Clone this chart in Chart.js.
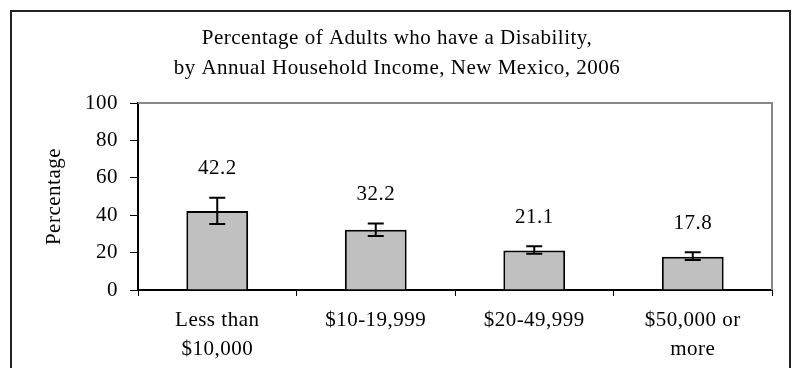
<!DOCTYPE html>
<html>
<head>
<meta charset="utf-8">
<script src="https://cdn.jsdelivr.net/npm/chart.js@4"></script>
<style>
  html, body { margin: 0; padding: 0; background: #fff; }
  #wrap { width: 796px; height: 368px; }
</style>
</head>
<body>
<div id="wrap"><canvas id="myChart" width="796" height="368"></canvas></div>
<script>
// data
const categories = [['Less than', '$10,000'], '$10-19,999', '$20-49,999', ['$50,000 or', 'more']];
const percentages = [42.2, 32.2, 21.1, 17.8];
const ciLow = [35.3, 28.9, 19.4, 16.0];
const ciHigh = [49.3, 35.5, 23.4, 20.2];
const yTicks = [0, 20, 40, 60, 80, 100];
const titleLines = ['Percentage of Adults who have a Disability,', 'by Annual Household Income, New Mexico, 2006'];

const serif = "'Liberation Serif', 'Times New Roman', serif";

// letter spacing like the original export, outer frame and plot border
const framePlugin = {
  id: 'frame',
  beforeDraw(chart) {
    const ctx = chart.ctx;
    ctx.letterSpacing = '0.5px';
    ctx.save();
    ctx.strokeStyle = '#222';
    ctx.lineWidth = 2;
    ctx.strokeRect(11, 11, 779, 370);
    // title
    ctx.fillStyle = '#000';
    ctx.font = '21px ' + serif;
    ctx.textAlign = 'center';
    ctx.textBaseline = 'middle';
    ctx.fillText(titleLines[0], 397, 38);
    ctx.fillText(titleLines[1], 397, 68);
    ctx.restore();
  },
  afterDatasetsDraw(chart) {
    const { ctx, chartArea } = chart;
    ctx.save();
    ctx.strokeStyle = '#888';
    ctx.lineWidth = 2;
    ctx.beginPath();
    ctx.moveTo(chartArea.left, chartArea.top);
    ctx.lineTo(chartArea.right, chartArea.top);
    ctx.lineTo(chartArea.right, chartArea.bottom);
    ctx.stroke();
    ctx.restore();
  }
};

// error bars and value labels
const errorBarPlugin = {
  id: 'errorBars',
  afterDatasetsDraw(chart) {
    const ctx = chart.ctx;
    const y = chart.scales.y;
    const meta = chart.getDatasetMeta(0);
    ctx.save();
    ctx.strokeStyle = '#000';
    ctx.lineWidth = 2;
    ctx.fillStyle = '#000';
    ctx.font = '21px ' + serif;
    ctx.textAlign = 'center';
    ctx.textBaseline = 'middle';
    meta.data.forEach((bar, i) => {
      const x = bar.x;
      const yHi = y.getPixelForValue(ciHigh[i]);
      const yLo = y.getPixelForValue(ciLow[i]);
      ctx.beginPath();
      ctx.moveTo(x, yHi); ctx.lineTo(x, yLo);
      ctx.moveTo(x - 8, yHi); ctx.lineTo(x + 8, yHi);
      ctx.moveTo(x - 8, yLo); ctx.lineTo(x + 8, yLo);
      ctx.stroke();
      ctx.fillText(percentages[i].toFixed(1), x, yHi - 29);
    });
    ctx.restore();
  }
};

const data = {
  labels: categories,
  datasets: [{
    label: 'Percentage',
    data: percentages,
    backgroundColor: '#c0c0c0',
    borderColor: '#000',
    borderWidth: 2,
    barPercentage: 0.39,
    categoryPercentage: 1
  }]
};

const config = {
  type: 'bar',
  data,
  options: {
    responsive: false,
    animation: false,
    layout: { padding: { left: 0, top: 103, right: 24, bottom: 0 } },
    plugins: {
      legend: { display: false },
      title: { display: false },
      tooltip: { enabled: false }
    },
    scales: {
      x: {
        afterFit(scale) { scale.height = 78; },
        grid: { drawOnChartArea: false, drawTicks: true, tickLength: 6, color: '#000', offset: true },
        border: { color: '#000', width: 2 },
        ticks: {
          color: '#000',
          padding: 10,
          maxRotation: 0,
          autoSkip: false,
          font: { family: serif, size: 21, lineHeight: 1.38 }
        }
      },
      y: {
        min: 0,
        max: 100,
        afterFit(scale) { scale.width = 138; },
        afterBuildTicks(scale) { scale.ticks = yTicks.map(v => ({ value: v })); },
        grid: { drawOnChartArea: false, drawTicks: true, tickLength: 8, color: '#000' },
        border: { color: '#000', width: 2 },
        ticks: {
          color: '#000',
          padding: 12,
          font: { family: serif, size: 21 }
        },
        title: {
          display: true,
          text: 'Percentage',
          color: '#000',
          font: { family: serif, size: 21, lineHeight: 1.2 },
          padding: { top: 42, bottom: 0 }
        }
      }
    }
  },
  plugins: [framePlugin, errorBarPlugin]
};

const ctx = document.getElementById('myChart');
const myChart = new Chart(ctx, config);
</script>
</body>
</html>
